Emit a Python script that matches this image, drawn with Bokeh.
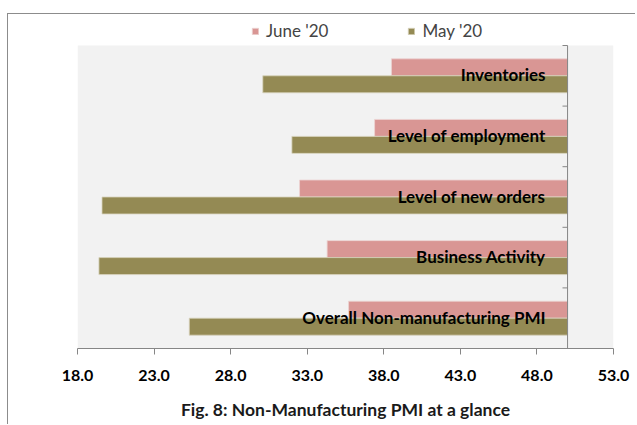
import numpy as np
from bokeh.plotting import figure
from bokeh.models import (ColumnDataSource, Range1d, Legend, LegendItem,
                          FixedTicker, NumeralTickFormatter, BoxAnnotation)
from bokeh.core.properties import value
from bokeh.embed import file_html
from bokeh.resources import INLINE

# ---- data ----
categories = ["Overall Non-manufacturing PMI", "Business Activity",
              "Level of new orders", "Level of employment", "Inventories"]
june_20 = [35.7, 34.3, 32.5, 37.4, 38.5]
may_20 = [25.3, 19.4, 19.6, 32.0, 30.1]
baseline = 50.0
x_ticks = [18.0, 23.0, 28.0, 33.0, 38.0, 43.0, 48.0, 53.0]
title_text = "Fig. 8: Non-Manufacturing PMI at a glance"

JUNE_C = "#d99694"
MAY_C = "#948a54"
FONT = "Lato"
GRID_C = "#868686"

n = len(categories)
ypos = np.arange(n) + 0.5
src = ColumnDataSource(dict(
    cat=categories, y=ypos,
    yj=ypos + 0.14, ym=ypos - 0.14,
    june=june_20, may=may_20, base=[baseline] * n,
))

# plot area: 303 px tall for n categories; frame extended 31 px upward to hold the legend
px_per_cat = 303 / n
p = figure(width=628, height=411, output_backend="svg", toolbar_location=None,
           x_range=Range1d(x_ticks[0], x_ticks[-1]),
           y_range=Range1d(0, n + 31 / px_per_cat),
           min_border_left=69, min_border_right=23, min_border_top=0, min_border_bottom=77,
           styles={"margin-left": "7px", "margin-top": "13px",
                   "border-top": "1px solid #8c8c8c", "border-left": "1px solid #8c8c8c"})
p.background_fill_color = "white"
p.border_fill_color = "white"
p.outline_line_color = None
p.xgrid.visible = False
p.ygrid.visible = False
p.yaxis.visible = False

# grey plot area
p.add_layout(BoxAnnotation(bottom=0, top=n, fill_color="#f2f2f2", fill_alpha=1,
                           line_color=None, level="underlay"))

rj = p.hbar(y="yj", left="june", right="base", height=0.28, source=src,
            fill_color=JUNE_C, line_color="#ecd3d2", line_width=0.8)
rm = p.hbar(y="ym", left="may", right="base", height=0.28, source=src,
            fill_color=MAY_C, line_color="#d8d3bd", line_width=0.8)

# vertical category axis crossing at 50, with its tick marks
p.segment(x0=[baseline], x1=[baseline], y0=[0], y1=[n], line_color=GRID_C, line_width=1)
bounds = np.arange(1, n + 1)
p.segment(x0=baseline - 0.33, x1=baseline, y0=bounds, y1=bounds, line_color=GRID_C, line_width=1)

p.text(x="base", y="y", text="cat", source=src, x_offset=-22, y_offset=-1,
       text_align="right", text_baseline="middle",
       text_font=value(FONT), text_font_style="bold", text_font_size="17px", text_color="black")

ax = p.xaxis[0]
ax.ticker = FixedTicker(ticks=x_ticks)
ax.formatter = NumeralTickFormatter(format="0.0")
ax.axis_line_color = GRID_C
ax.major_tick_line_color = GRID_C
ax.major_tick_out = 6
ax.major_tick_in = 0
ax.minor_tick_line_color = None
ax.major_label_text_font = FONT
ax.major_label_text_font_style = "bold"
ax.major_label_text_font_size = "16px"
ax.major_label_text_color = "black"
ax.major_label_standoff = 15
# figure caption below the axis
ax.axis_label = title_text
ax.axis_label_standoff = 15
ax.axis_label_text_font = FONT
ax.axis_label_text_font_style = "bold"
ax.axis_label_text_font_size = "17.5px"
ax.axis_label_text_color = "#1a1a1a"

legend = Legend(items=[LegendItem(label="June '20", renderers=[rj]),
                       LegendItem(label="May '20", renderers=[rm])],
                orientation="horizontal", location=(174, 307),
                glyph_width=8, glyph_height=8, label_standoff=7, spacing=79,
                padding=0, margin=0, border_line_color=None, background_fill_alpha=0,
                label_text_font=FONT, label_text_font_size="17px", label_height=16)
p.add_layout(legend, "center")

open("out.html", "w").write(file_html(p, INLINE))
